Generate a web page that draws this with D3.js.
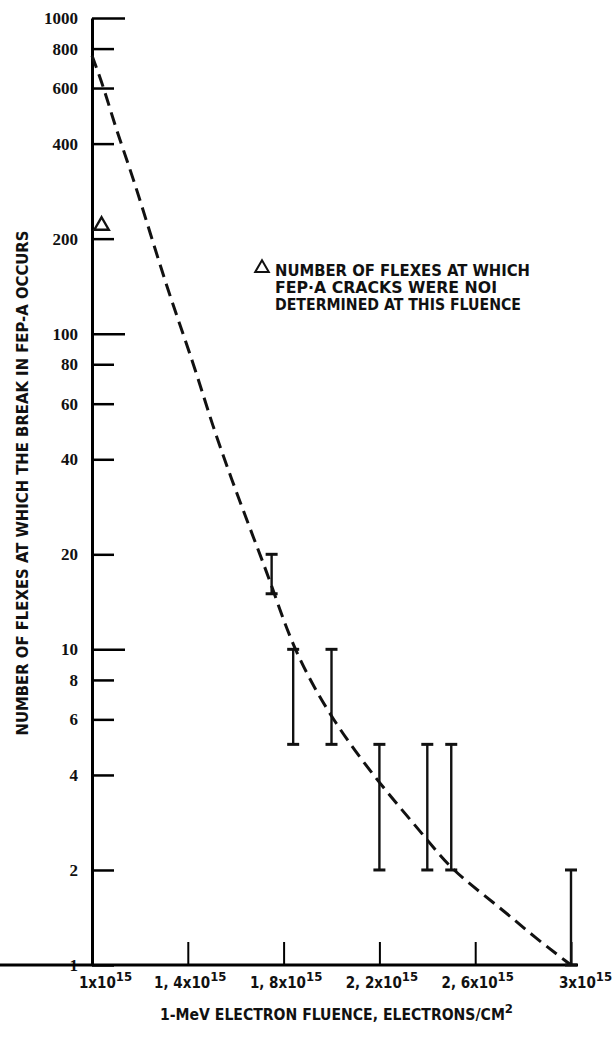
<!DOCTYPE html>
<html>
<head>
	<meta charset="utf-8">
	<title>Flexes vs fluence</title>
	<script src="https://d3js.org/d3.v7.min.js"></script>
	<style>
		html, body {
			margin: 0;
			background: #fff;
		}
		text {
			font-family: "DejaVu Sans", sans-serif;
			font-stretch: condensed;
			font-weight: bold;
			fill: #111;
		}
	</style>
</head>
<body>
	<svg id="svg"></svg>
	<script>
		// fluence in units of 1e15 electrons/cm2
		const xTicks = [1.0, 1.4, 1.8, 2.2, 2.6, 3.0];
		const yTicks = [1, 2, 4, 6, 8, 10, 20, 40, 60, 80, 100, 200, 400, 600, 800, 1000];
		const yMajor = [10, 100, 1000];

		// dashed fitted curve
		const curveX = [1.0, 1.05, 1.1, 1.17, 1.25, 1.33, 1.43, 1.5, 1.58, 1.68, 1.75, 1.84, 2.0, 2.2, 2.4, 2.5, 2.7, 2.85, 3.0];
		const curveY = [760, 600, 445, 315, 200, 128, 78, 52, 35, 22, 16, 10, 6, 3.75, 2.5, 2.0, 1.53, 1.22, 1.0];

		// error bars (range of flexes at break)
		const barX = [1.75, 1.84, 2.0, 2.2, 2.4, 2.5, 3.0];
		const barLow = [15, 5, 5, 2, 2, 2, 1];
		const barHigh = [20, 10, 10, 5, 5, 5, 2];

		// open triangle: cracks not determined
		const triX = [1.04];
		const triY = [220];

		const legendLines = ["NUMBER OF FLEXES AT WHICH", "FEP\u00B7A CRACKS WERE NOI", "DETERMINED AT THIS FLUENCE"];
		const legendWidths = [255, 222, 246];

		const width = 612, height = 1037;
		const svg = d3.select("#svg")
		.attr("width", width)
		.attr("height", height);

		const x = d3.scaleLinear()
		.domain([1, 3])
		.range([92, 571]);

		const y = d3.scaleLog()
		.domain([1, 1000])
		.range([965, 18]);

		// y axis
		const yAxis = svg.append("g")
		.attr("transform", "translate(92,0)")
		.call(d3.axisLeft(y).tickValues(yTicks).tickFormat(d3.format("d")).tickSize(-23).tickSizeOuter(0).tickPadding(14));
		yAxis.select(".domain").attr("stroke-width", 3);
		yAxis.selectAll(".tick line")
		.attr("stroke-width", 2.5)
		.attr("x2", d => yMajor.includes(d) ? 33 : 22);
		yAxis.selectAll(".tick text")
		.style("font-family", "'Liberation Serif', serif")
		.style("font-stretch", "normal")
		.style("font-size", "17px")
		.attr("fill", "#111");

		// x axis
		const xAxis = svg.append("g")
		.attr("transform", "translate(0,965)")
		.call(d3.axisBottom(x).tickValues(xTicks).tickSize(-23).tickSizeOuter(0).tickPadding(12));
		xAxis.select(".domain").attr("stroke-width", 3).attr("d", "M0,0H578");
		xAxis.selectAll(".tick line").attr("stroke-width", 2);
		xAxis.selectAll(".tick text")
		.style("font-size", "15px")
		.attr("fill", "#111")
		.attr("dx", (d, i) => i === 0 ? 13 : (i === xTicks.length - 1 ? 14 : 2))
		.each(function(d) {
			const t = d3.select(this).text("");
			const base = d === Math.round(d) ? d3.format("d")(d) : d3.format(".1f")(d).replace(".", ", ");
			t.append("tspan").text(base + "x10");
			t.append("tspan").attr("dy", -7).style("font-size", "13px").text("15");
		});

		// axis titles
		svg.append("text")
		.attr("transform", "translate(28,483) rotate(-90)")
		.attr("text-anchor", "middle")
		.attr("textLength", 505)
		.attr("lengthAdjust", "spacingAndGlyphs")
		.style("font-size", "15px")
		.text("NUMBER OF FLEXES AT WHICH THE BREAK IN FEP-A OCCURS");

		const xTitle = svg.append("text")
		.attr("x", 160)
		.attr("y", 1020)
		.style("font-size", "15.6px");
		xTitle.append("tspan").text("1-MeV ELECTRON FLUENCE,  ELECTRONS/CM");
		xTitle.append("tspan").attr("dy", -7).style("font-size", "13px").text("2");

		// dashed curve
		const line = d3.line()
		.curve(d3.curveBasis)
		.x(d => x(d[0]))
		.y(d => y(d[1]));

		svg.append("path")
		.attr("fill", "none")
		.attr("stroke", "#111")
		.attr("stroke-width", 3)
		.attr("stroke-dasharray", "13,7")
		.attr("d", line(d3.zip(curveX, curveY)));

		// error bars
		const bars = svg.append("g").selectAll("g")
		.data(d3.range(barX.length))
		.enter()
		.append("g")
		.attr("stroke", "#111")
		.attr("stroke-width", 2.4);

		bars.append("line")
		.attr("x1", i => x(barX[i]))
		.attr("x2", i => x(barX[i]))
		.attr("y1", i => y(barLow[i]))
		.attr("y2", i => y(barHigh[i]));

		bars.selectAll("line.cap")
		.data(i => [[barX[i], barLow[i]], [barX[i], barHigh[i]]])
		.enter()
		.append("line")
		.attr("class", "cap")
		.attr("stroke-width", 3)
		.attr("x1", d => x(d[0]) - 6)
		.attr("x2", d => x(d[0]) + 6)
		.attr("y1", d => y(d[1]))
		.attr("y2", d => y(d[1]));

		// open triangle
		const tri = d3.symbol().type(d3.symbolTriangle).size(90);
		svg.selectAll("path.tri")
		.data(d3.zip(triX, triY))
		.enter()
		.append("path")
		.attr("class", "tri")
		.attr("d", tri)
		.attr("transform", d => `translate(${x(d[0])},${y(d[1])})`)
		.attr("fill", "none")
		.attr("stroke", "#111")
		.attr("stroke-width", 2.4);

		// legend
		const legend = svg.append("g").attr("transform", "translate(262,0)");
		legend.append("path")
		.attr("d", d3.symbol().type(d3.symbolTriangle).size(80))
		.attr("transform", "translate(0,268)")
		.attr("fill", "none")
		.attr("stroke", "#111")
		.attr("stroke-width", 2);
		legend.selectAll("text")
		.data(legendLines)
		.enter()
		.append("text")
		.attr("x", 13)
		.attr("y", (d, i) => 276 + i * 17)
		.attr("textLength", (d, i) => legendWidths[i])
		.attr("lengthAdjust", "spacingAndGlyphs")
		.style("font-size", "15px")
		.text(d => d);
	</script>
</body>
</html>
